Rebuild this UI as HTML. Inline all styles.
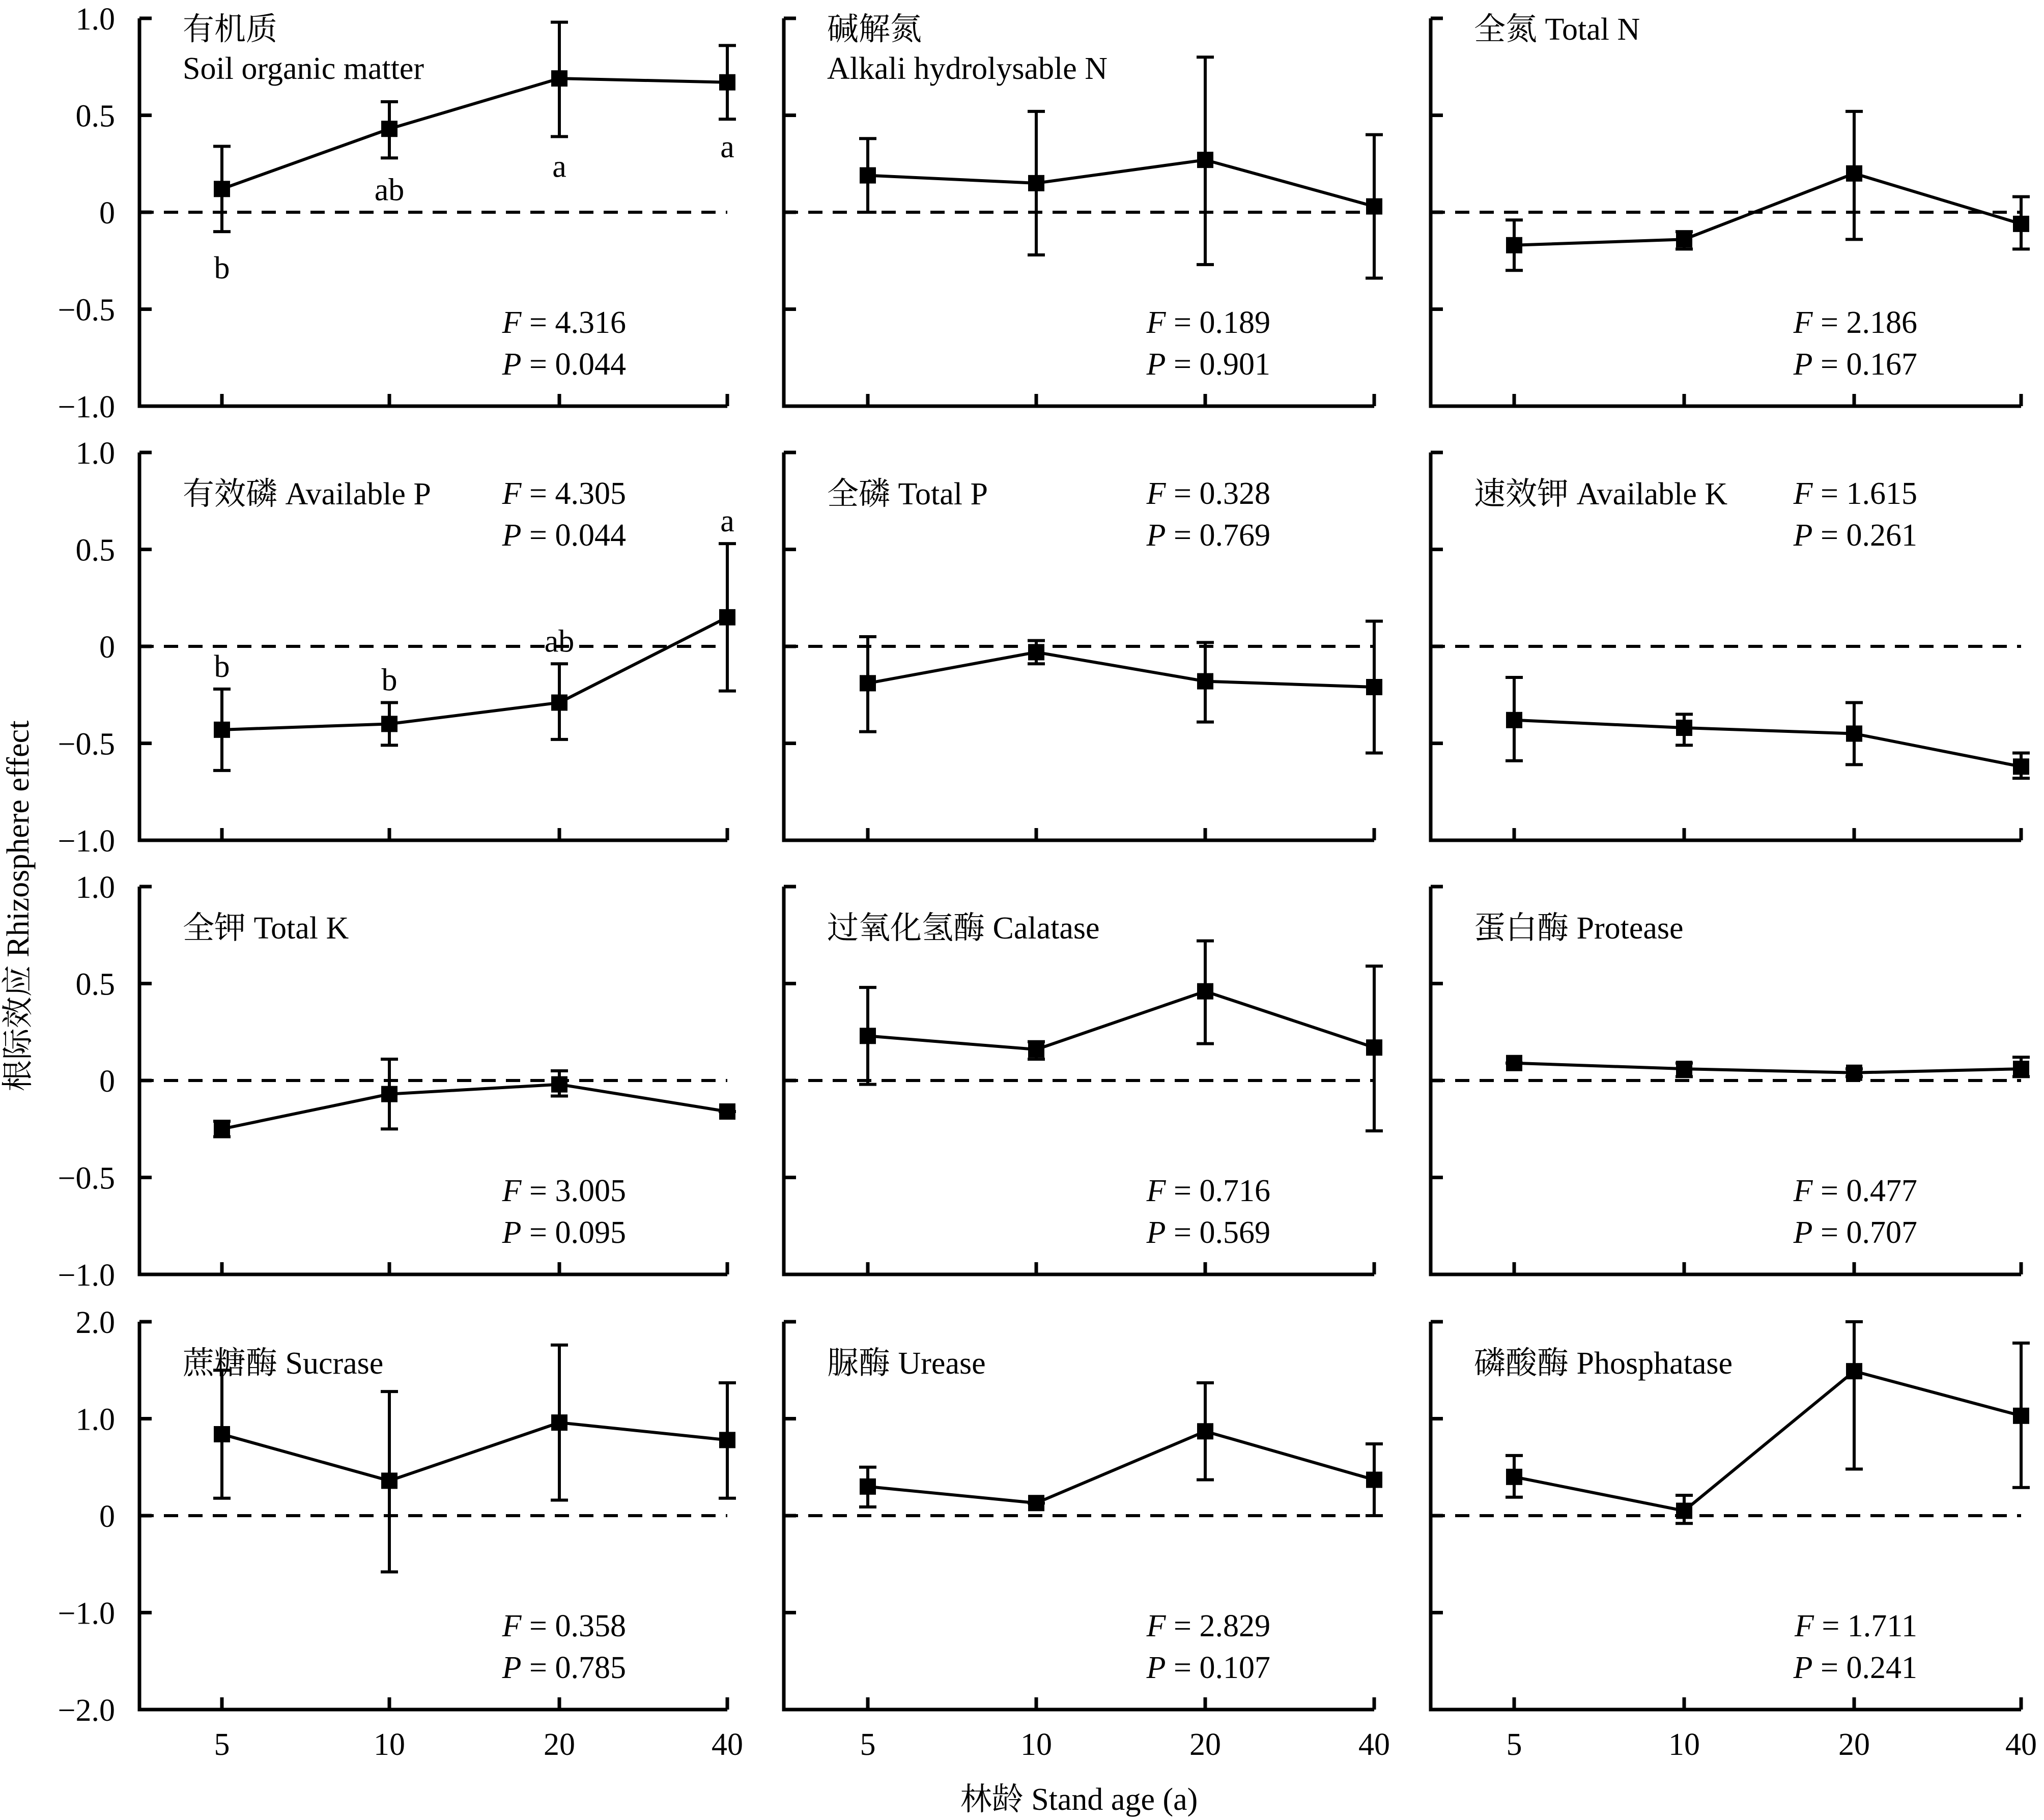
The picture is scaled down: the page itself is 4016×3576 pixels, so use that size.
<!DOCTYPE html>
<html><head><meta charset="utf-8">
<style>
html,body{margin:0;padding:0;background:#fff;}
svg{display:block;}
text{font-family:"Liberation Serif","Noto Serif CJK SC",serif;fill:#000;}
</style></head>
<body>
<svg id="chart" width="4016" height="3576" viewBox="0 0 4016 3576" xmlns="http://www.w3.org/2000/svg">
<text x="0" y="0" font-size="62" font-family="Liberation Serif, Noto Serif CJK SC, serif" text-anchor="middle" transform="translate(56,1780) rotate(-90)">根际效应 Rhizosphere effect</text>
<text x="2120" y="3556" font-size="62" font-family="Liberation Serif, Noto Serif CJK SC, serif" text-anchor="middle">林龄 Stand age (a)</text>
</svg>
<script>
const categories = ["5","10","20","40"];
const titlesCN = ["有机质","碱解氮","全氮","有效磷","全磷","速效钾","全钾","过氧化氢酶","蛋白酶","蔗糖酶","脲酶","磷酸酶"];
const titlesEN = ["Soil organic matter","Alkali hydrolysable N","Total N","Available P","Total P","Available K","Total K","Calatase","Protease","Sucrase","Urease","Phosphatase"];
const meanValues = [
 [0.12,0.43,0.69,0.67],[0.19,0.15,0.27,0.03],[-0.17,-0.14,0.20,-0.06],
 [-0.43,-0.40,-0.29,0.15],[-0.19,-0.03,-0.18,-0.21],[-0.38,-0.42,-0.45,-0.62],
 [-0.25,-0.07,-0.02,-0.16],[0.23,0.16,0.46,0.17],[0.09,0.06,0.04,0.06],
 [0.84,0.36,0.96,0.78],[0.30,0.13,0.87,0.37],[0.40,0.05,1.49,1.03]];
const lowValues = [
 [-0.10,0.28,0.39,0.48],[0.00,-0.22,-0.27,-0.34],[-0.30,-0.19,-0.14,-0.19],
 [-0.64,-0.51,-0.48,-0.23],[-0.44,-0.09,-0.39,-0.55],[-0.59,-0.51,-0.61,-0.68],
 [-0.29,-0.25,-0.08,-0.16],[-0.02,0.11,0.19,-0.26],[0.09,0.02,0.02,0.02],
 [0.18,-0.58,0.16,0.18],[0.09,0.13,0.37,0.00],[0.19,-0.08,0.48,0.29]];
const highValues = [
 [0.34,0.57,0.98,0.86],[0.38,0.52,0.80,0.40],[-0.04,-0.10,0.52,0.08],
 [-0.22,-0.29,-0.09,0.53],[0.05,0.03,0.02,0.13],[-0.16,-0.35,-0.29,-0.55],
 [-0.21,0.11,0.05,-0.16],[0.48,0.20,0.72,0.59],[0.09,0.09,0.06,0.12],
 [1.50,1.28,1.76,1.37],[0.50,0.13,1.37,0.74],[0.62,0.21,2.00,1.78]];
const fStats = ["4.316","0.189","2.186","4.305","0.328","1.615","3.005","0.716","0.477","0.358","2.829","1.711"];
const pStats = ["0.044","0.901","0.167","0.044","0.769","0.261","0.095","0.569","0.707","0.785","0.107","0.241"];
const sigLetters1 = ["b","ab","a","a"];
const sigLetters4 = ["b","b","ab","a"];
const yTicksSmall = ["1.0","0.5","0","-0.5","-1.0"];
const yTicksLarge = ["2.0","1.0","0","-1.0","-2.0"];

const NS="http://www.w3.org/2000/svg";
const FF="Liberation Serif, Noto Serif CJK SC, serif";
const svg=document.getElementById('chart');
function mk(tag,attrs,parent){const e=document.createElementNS(NS,tag);for(const k in attrs)e.setAttribute(k,attrs[k]);if(tag==='text')e.setAttribute('font-family',FF);(parent||svg).appendChild(e);return e;}
const colX=[274,1540,2811], colW=[1155,1160,1160];
const tickOff=[[162,491,825,1155],[165,496,828,1160],[164,498,832,1160]];
const rowTop=[36,889,1742,2597], rowH=762;
const letterOff1=[92,83,79,75];

for(let p=0;p<12;p++){
  const r=Math.floor(p/3), c=p%3;
  const ax=colX[c], top=rowTop[r], bot=top+rowH;
  const yMax = r===3?2:1;
  const ys=v=>top+(yMax-v)/(2*yMax)*rowH;
  const xs=i=>ax+tickOff[c][i];
  const g=mk('g',{});
  
  
  const axes=mk('path',{d:`M${ax} ${top}V${bot}H${ax+colW[c]}`,stroke:'#000','stroke-width':7,fill:'none'},g);
  
  
  const tl = r===3?yTicksLarge:yTicksSmall;
  tl.forEach((t,i)=>{
    const v=yMax-i*yMax/2, y=ys(v);
    mk('line',{x1:ax,x2:ax+24,y1:y,y2:y,stroke:'#000','stroke-width':7},g);
    if(c===0){const tx=mk('text',{x:ax-48,y:y+22,'font-size':62,'text-anchor':'end'},g);tx.textContent=t.replace('-','\u2212');
      
      }
  });
  categories.forEach((cat,i)=>{
    mk('line',{x1:xs(i),x2:xs(i),y1:bot,y2:bot-24,stroke:'#000','stroke-width':7},g);
    if(r===3){const tx=mk('text',{x:xs(i),y:3448,'font-size':62,'text-anchor':'middle'},g);tx.textContent=cat;
      
      }
  });
  const z=mk('line',{x1:ax,x2:ax+colW[c],y1:ys(0),y2:ys(0),stroke:'#000','stroke-width':6,'stroke-dasharray':'28,20'},g);
  
  
  categories.forEach((cat,i)=>{
    const x=xs(i),y1=ys(lowValues[p][i]),y2=ys(highValues[p][i]);
    const eb=mk('path',{d:`M${x} ${y1}V${y2}M${x-17} ${y1}H${x+17}M${x-17} ${y2}H${x+17}`,stroke:'#000','stroke-width':6,fill:'none'},g);
    
    
  });
  const ln=mk('polyline',{points:meanValues[p].map((v,i)=>xs(i)+','+ys(v)).join(' '),stroke:'#000','stroke-width':6,fill:'none'},g);
  
  
  meanValues[p].forEach((v,i)=>{
    const m=mk('rect',{x:xs(i)-16,y:ys(v)-16,width:32,height:32,fill:'#000'},g);
    
    
  });
  const tx0=ax+85;
  if(r===0 && c<2){
    const t1=mk('text',{x:tx0,y:78,'font-size':62},g);t1.textContent=titlesCN[p];
    
    
    const t2=mk('text',{x:tx0,y:155,'font-size':62},g);t2.textContent=titlesEN[p];
    
    
  } else {
    const ty = r===0?78:top+102;
    const t=mk('text',{x:tx0,y:ty,'font-size':62},g);t.textContent=titlesCN[p]+' '+titlesEN[p];
    
    
  }
  const sx=ax+956, fy = r===1?top+101:top+618;
  const fs=mk('text',{x:sx,y:fy,'font-size':62,'text-anchor':'end'},g);
  fs.innerHTML='<tspan font-style="italic">F</tspan> = '+fStats[p];
  
  
  const ps=mk('text',{x:sx,y:fy+82,'font-size':62,'text-anchor':'end'},g);
  ps.innerHTML='<tspan font-style="italic">P</tspan> = '+pStats[p];
  
  
  if(p===0){
    sigLetters1.forEach((L,i)=>{
      const y = ys(lowValues[p][i])+letterOff1[i];
      const t=mk('text',{x:xs(i),y:y,'font-size':62,'text-anchor':'middle'},g);t.textContent=L;
      
      
    });
  }
  if(p===3){
    sigLetters4.forEach((L,i)=>{
      const t=mk('text',{x:xs(i),y:ys(highValues[p][i])-24,'font-size':62,'text-anchor':'middle'},g);t.textContent=L;
      
      
    });
  }
}
</script>
</body></html>
